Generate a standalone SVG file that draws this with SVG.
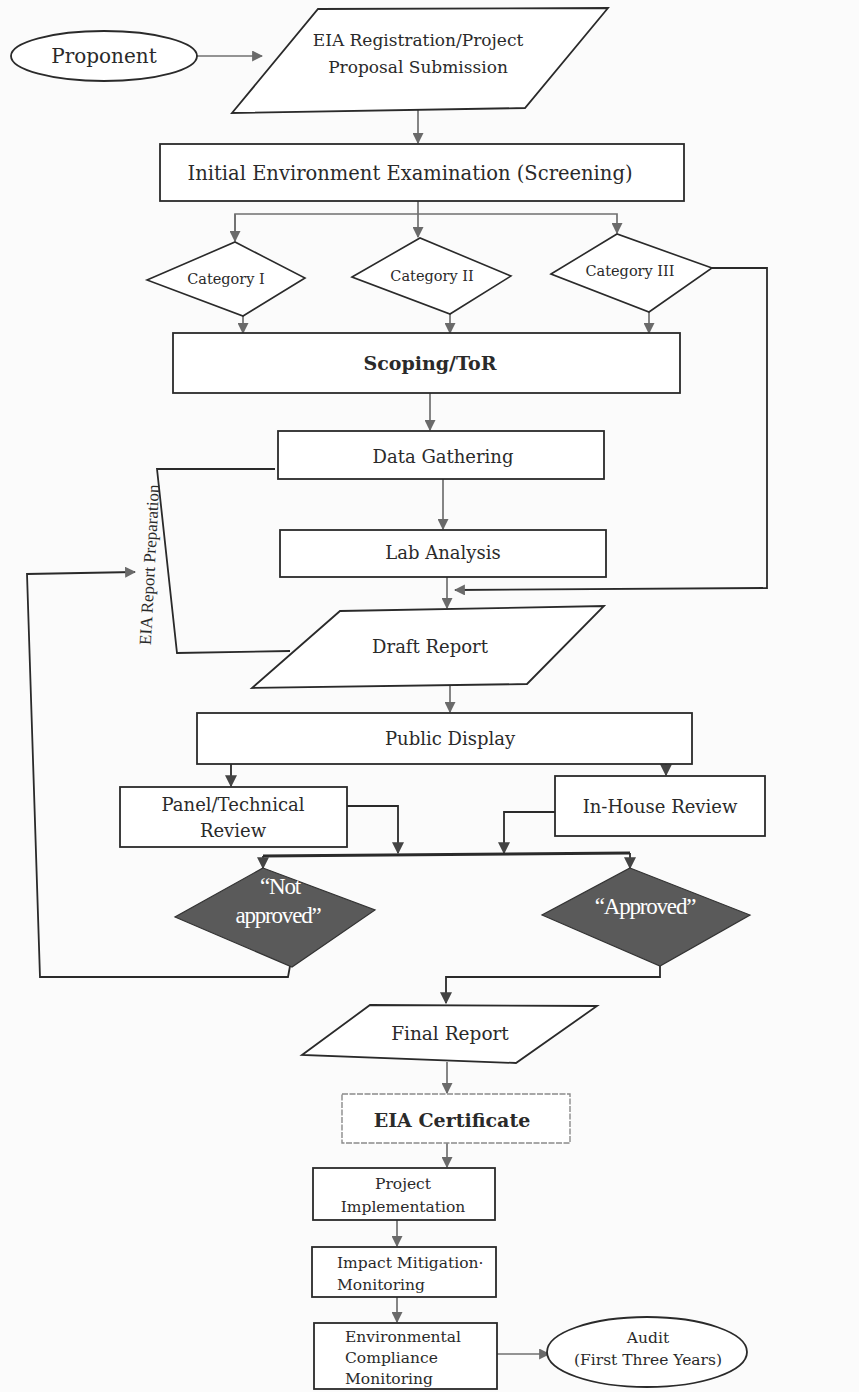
<svg xmlns="http://www.w3.org/2000/svg" width="859" height="1392" viewBox="0 0 859 1392">
<style>
.bg{fill:#fbfbfb}
.box{fill:#fff;stroke:#2a2a2a;stroke-width:1.8}
.faint{fill:#fff;stroke:#8a8a8a;stroke-width:1.4;stroke-dasharray:6 1.5}
.dia{fill:#fff;stroke:#2a2a2a;stroke-width:1.6}
.dark{fill:#5a5a5a;stroke:#333;stroke-width:1.2}
.c{fill:none;stroke:#707070;stroke-width:1.7}
.k{fill:none;stroke:#2a2a2a;stroke-width:1.8}
.t{font-family:"DejaVu Serif","Liberation Serif",serif;fill:#2a2a2a;text-anchor:middle}
.s{font-family:"Liberation Serif","DejaVu Serif",serif;fill:#2a2a2a;text-anchor:middle}
.w{font-family:"Liberation Serif","DejaVu Serif",serif;fill:#fff;text-anchor:middle;font-size:23px;letter-spacing:-1.2px}
</style>
<defs>
<marker id="ah" viewBox="0 0 10 10" refX="9" refY="5" markerWidth="11" markerHeight="11" markerUnits="userSpaceOnUse" orient="auto">
<path d="M0,0 L10,5 L0,10 z" fill="#6a6a6a"/>
</marker>
<marker id="ahd" viewBox="0 0 10 10" refX="9" refY="5" markerWidth="12" markerHeight="12" markerUnits="userSpaceOnUse" orient="auto">
<path d="M0,0 L10,5 L0,10 z" fill="#444"/>
</marker>
</defs>
<rect class="bg" x="0" y="0" width="859" height="1392"/>

<g id="connectors">
<line class="c" x1="197" y1="56" x2="262" y2="56" marker-end="url(#ah)"/>
<line class="c" x1="418" y1="110" x2="418" y2="143" marker-end="url(#ah)"/>
<line class="c" x1="418" y1="201" x2="418" y2="237" marker-end="url(#ah)"/>
<polyline class="c" points="235,241 235,214 617,214 617,233" marker-end="url(#ah)"/>
<line class="c" x1="235" y1="214" x2="235" y2="241" marker-end="url(#ah)"/>
<line class="c" x1="243" y1="316" x2="243" y2="333" marker-end="url(#ah)"/>
<line class="c" x1="450" y1="314" x2="450" y2="333" marker-end="url(#ah)"/>
<line class="c" x1="649" y1="312" x2="649" y2="333" marker-end="url(#ah)"/>
<polyline class="k" points="712,268 767,268 767,588 455,590" marker-end="url(#ah)"/>
<line class="c" x1="430" y1="393" x2="430" y2="430" marker-end="url(#ah)"/>
<line class="c" x1="443" y1="479" x2="443" y2="529" marker-end="url(#ah)"/>
<line class="c" x1="447" y1="577" x2="447" y2="608" marker-end="url(#ah)"/>
<polyline class="k" points="275,469 157,469 177,653 290,651"/>
<polyline class="k" points="290,966 288,977 40,977 27,574 135,572" marker-end="url(#ah)"/>
<line class="c" x1="450" y1="686" x2="450" y2="712" marker-end="url(#ah)"/>
<line class="k" x1="231" y1="764" x2="231" y2="786" marker-end="url(#ahd)"/>
<line class="k" x1="666" y1="764" x2="666" y2="775" marker-end="url(#ahd)"/>
<polyline class="k" points="347,806 398,806 398,853" marker-end="url(#ahd)"/>
<polyline class="k" points="555,812 504,812 504,853" marker-end="url(#ahd)"/>
<polyline class="k" points="263,856 630,853" style="stroke-width:3"/>
<line class="k" x1="263" y1="856" x2="263" y2="868" marker-end="url(#ahd)"/>
<line class="k" x1="630" y1="853" x2="630" y2="868" marker-end="url(#ahd)"/>
<polyline class="k" points="660,966 660,977 446,977 446,1003" marker-end="url(#ahd)"/>
<line class="c" x1="447" y1="1062" x2="447" y2="1093" marker-end="url(#ah)"/>
<line class="c" x1="447" y1="1143" x2="447" y2="1167" marker-end="url(#ah)"/>
<line class="c" x1="397" y1="1220" x2="397" y2="1246" marker-end="url(#ah)"/>
<line class="c" x1="397" y1="1297" x2="397" y2="1322" marker-end="url(#ah)"/>
<line class="c" x1="497" y1="1354" x2="549" y2="1354" marker-end="url(#ah)"/>
</g>

<g id="proponent">
<ellipse class="box" cx="104" cy="56" rx="93" ry="25"/>
<text class="t" x="104" y="63" font-size="20">Proponent</text>
</g>
<g id="registration">
<polygon class="box" points="318,9 608,8 525,108 232,113"/>
<text class="t" x="418" y="46" font-size="17">EIA Registration/Project</text>
<text class="t" x="418" y="73" font-size="17">Proposal Submission</text>
</g>
<g id="screening">
<rect class="box" x="160" y="144" width="524" height="57"/>
<text class="t" x="410" y="180" font-size="19.5">Initial Environment Examination (Screening)</text>
</g>
<g id="cat1">
<polygon class="dia" points="147,280 235,242 305,278 243,316"/>
<text class="t" x="226" y="284" font-size="14.5">Category I</text>
</g>
<g id="cat2">
<polygon class="dia" points="352,277 420,238 511,276 450,314"/>
<text class="t" x="432" y="281" font-size="14.5">Category II</text>
</g>
<g id="cat3">
<polygon class="dia" points="551,274 617,234 712,268 649,312"/>
<text class="t" x="630" y="276" font-size="14.5">Category III</text>
</g>
<g id="scoping">
<rect class="box" x="173" y="333" width="507" height="60"/>
<text class="t" x="430" y="370" font-size="19" font-weight="600">Scoping/ToR</text>
</g>
<g id="data">
<rect class="box" x="278" y="431" width="326" height="48"/>
<text class="t" x="443" y="463" font-size="18">Data Gathering</text>
</g>
<g id="lab">
<rect class="box" x="280" y="530" width="326" height="47"/>
<text class="t" x="443" y="559" font-size="18">Lab Analysis</text>
</g>
<g id="prep-label">
<text class="s" x="0" y="0" font-size="17" transform="translate(155,565) rotate(-87)">EIA Report Preparation</text>
</g>
<g id="draft">
<polygon class="box" points="340,611 604,606 527,684 252,688"/>
<text class="t" x="430" y="653" font-size="18">Draft Report</text>
</g>
<g id="public">
<rect class="box" x="197" y="713" width="495" height="51"/>
<text class="t" x="450" y="745" font-size="18">Public Display</text>
</g>
<g id="panel">
<rect class="box" x="120" y="787" width="227" height="60"/>
<text class="t" x="233" y="811" font-size="18">Panel/Technical</text>
<text class="t" x="233" y="837" font-size="18">Review</text>
</g>
<g id="inhouse">
<rect class="box" x="555" y="776" width="210" height="60"/>
<text class="t" x="660" y="813" font-size="18">In-House Review</text>
</g>
<g id="notapproved">
<polygon class="dark" points="263,868 375,910 292,967 175,917"/>
<text class="w" x="280" y="894">“Not</text>
<text class="w" x="278" y="923">approved”</text>
</g>
<g id="approved">
<polygon class="dark" points="630,868 750,915 660,966 542,915"/>
<text class="w" x="645" y="914">“Approved”</text>
</g>
<g id="final">
<polygon class="box" points="370,1005 597,1006 516,1063 302,1055"/>
<text class="t" x="450" y="1040" font-size="18.5">Final Report</text>
</g>
<g id="certificate">
<rect class="faint" x="342" y="1094" width="228" height="49"/>
<text class="t" x="452" y="1127" font-size="19" font-weight="600">EIA Certificate</text>
</g>
<g id="implementation">
<rect class="box" x="313" y="1168" width="182" height="52"/>
<text class="t" x="403" y="1189" font-size="15.5">Project</text>
<text class="t" x="403" y="1212" font-size="15.5">Implementation</text>
</g>
<g id="mitigation">
<rect class="box" x="312" y="1247" width="184" height="50"/>
<text class="t" x="337" y="1268" font-size="15.5" style="text-anchor:start">Impact Mitigation·</text>
<text class="t" x="337" y="1290" font-size="15.5" style="text-anchor:start">Monitoring</text>
</g>
<g id="compliance">
<rect class="box" x="314" y="1323" width="183" height="66"/>
<text class="t" x="345" y="1342" font-size="15.5" style="text-anchor:start">Environmental</text>
<text class="t" x="345" y="1363" font-size="15.5" style="text-anchor:start">Compliance</text>
<text class="t" x="345" y="1384" font-size="15.5" style="text-anchor:start">Monitoring</text>
</g>
<g id="audit">
<ellipse class="box" cx="647" cy="1352" rx="100" ry="35"/>
<text class="t" x="648" y="1343" font-size="15.5">Audit</text>
<text class="t" x="648" y="1365" font-size="15.5">(First Three Years)</text>
</g>
</svg>
